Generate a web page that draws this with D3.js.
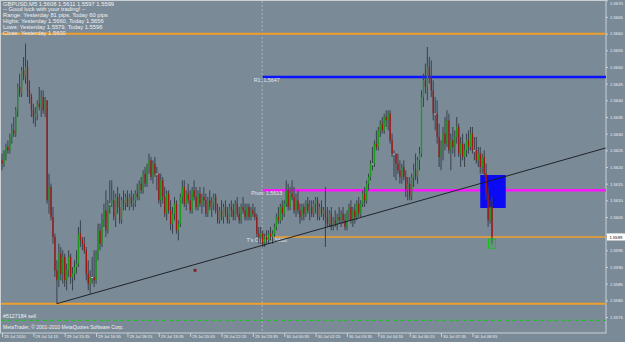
<!DOCTYPE html>
<html>
<head>
<meta charset="UTF-8">
<title>GBPUSD M5</title>
<style>
  body{ margin:0; background:#7b8a97; }
  svg{ display:block; font-family:"Liberation Sans", Arial, sans-serif; }
</style>
</head>
<body>
<svg></svg>
<script src="https://d3js.org/d3.v7.min.js"></script>
<script>

let width = 625, height = 342;

// GBPUSD M5 bars, one row per bar: open, high, low, close
let candles = [
[1.5622,1.5624,1.5619,1.5621],[1.5621,1.5625,1.5620,1.5624],[1.5624,1.5627,1.5622,1.5626],[1.5626,1.5628,1.5624,1.5625],
[1.5625,1.5630,1.5624,1.5629],[1.5629,1.5633,1.5627,1.5631],[1.5631,1.5635,1.5629,1.5630],[1.5630,1.5638,1.5629,1.5637],
[1.5637,1.5645,1.5635,1.5644],[1.5644,1.5648,1.5641,1.5642],[1.5642,1.5650,1.5641,1.5649],[1.5649,1.5653,1.5646,1.5647],
[1.5647,1.5657,1.5645,1.5650],[1.5650,1.5652,1.5641,1.5643],[1.5643,1.5646,1.5639,1.5641],[1.5641,1.5642,1.5635,1.5637],
[1.5637,1.5639,1.5633,1.5635],[1.5635,1.5638,1.5632,1.5636],[1.5636,1.5640,1.5634,1.5639],[1.5639,1.5644,1.5637,1.5638],
[1.5638,1.5643,1.5635,1.5641],[1.5641,1.5643,1.5636,1.5637],[1.5637,1.5641,1.5635,1.5640],[1.5640,1.5640,1.5609,1.5610],
[1.5610,1.5618,1.5606,1.5614],[1.5614,1.5615,1.5604,1.5605],[1.5605,1.5608,1.5597,1.5599],[1.5599,1.5600,1.5587,1.5589],
[1.5589,1.5592,1.5579,1.5586],[1.5586,1.5597,1.5584,1.5594],[1.5594,1.5596,1.5586,1.5588],[1.5588,1.5595,1.5585,1.5593],
[1.5593,1.5594,1.5584,1.5586],[1.5586,1.5591,1.5583,1.5589],[1.5589,1.5595,1.5587,1.5593],[1.5593,1.5594,1.5585,1.5587],
[1.5587,1.5590,1.5583,1.5588],[1.5588,1.5592,1.5586,1.5590],[1.5590,1.5595,1.5588,1.5591],[1.5591,1.5602,1.5590,1.5600],
[1.5600,1.5604,1.5596,1.5598],[1.5598,1.5599,1.5595,1.5597],[1.5597,1.5599,1.5594,1.5595],[1.5595,1.5596,1.5586,1.5588],
[1.5588,1.5592,1.5583,1.5585],[1.5585,1.5589,1.5582,1.5587],[1.5587,1.5593,1.5585,1.5587],[1.5587,1.5595,1.5584,1.5586],
[1.5586,1.5595,1.5585,1.5594],[1.5594,1.5603,1.5592,1.5601],[1.5601,1.5603,1.5595,1.5597],[1.5597,1.5606,1.5596,1.5604],
[1.5604,1.5609,1.5602,1.5607],[1.5607,1.5613,1.5599,1.5601],[1.5601,1.5610,1.5600,1.5609],[1.5609,1.5616,1.5606,1.5609],
[1.5609,1.5616,1.5608,1.5610],[1.5610,1.5613,1.5604,1.5605],[1.5605,1.5612,1.5602,1.5611],[1.5611,1.5614,1.5606,1.5608],
[1.5608,1.5612,1.5603,1.5604],[1.5604,1.5611,1.5603,1.5610],[1.5610,1.5613,1.5607,1.5609],[1.5609,1.5612,1.5607,1.5611],
[1.5611,1.5613,1.5608,1.5608],[1.5608,1.5612,1.5607,1.5611],[1.5611,1.5613,1.5608,1.5609],[1.5609,1.5612,1.5607,1.5610],
[1.5610,1.5613,1.5608,1.5612],[1.5612,1.5615,1.5610,1.5611],[1.5611,1.5616,1.5610,1.5615],[1.5615,1.5617,1.5612,1.5613],
[1.5613,1.5619,1.5612,1.5618],[1.5618,1.5620,1.5614,1.5615],[1.5615,1.5621,1.5614,1.5620],[1.5620,1.5624,1.5618,1.5622],
[1.5622,1.5623,1.5616,1.5617],[1.5617,1.5622,1.5615,1.5621],[1.5621,1.5623,1.5617,1.5618],[1.5618,1.5620,1.5613,1.5618],
[1.5618,1.5618,1.5609,1.5610],[1.5610,1.5618,1.5608,1.5616],[1.5616,1.5617,1.5609,1.5611],[1.5611,1.5614,1.5605,1.5606],
[1.5606,1.5613,1.5604,1.5612],[1.5612,1.5613,1.5606,1.5607],[1.5607,1.5610,1.5601,1.5603],[1.5603,1.5608,1.5600,1.5606],
[1.5606,1.5611,1.5604,1.5609],[1.5609,1.5610,1.5600,1.5601],[1.5601,1.5604,1.5598,1.5603],[1.5603,1.5612,1.5602,1.5611],
[1.5611,1.5616,1.5609,1.5614],[1.5614,1.5616,1.5608,1.5609],[1.5609,1.5613,1.5607,1.5612],[1.5612,1.5615,1.5609,1.5610],
[1.5610,1.5613,1.5606,1.5607],[1.5607,1.5614,1.5606,1.5613],[1.5613,1.5616,1.5610,1.5611],[1.5611,1.5614,1.5607,1.5608],
[1.5608,1.5613,1.5607,1.5612],[1.5612,1.5614,1.5608,1.5609],[1.5609,1.5612,1.5606,1.5611],[1.5611,1.5614,1.5608,1.5610],
[1.5610,1.5612,1.5605,1.5606],[1.5606,1.5611,1.5605,1.5610],[1.5610,1.5613,1.5607,1.5608],[1.5608,1.5611,1.5605,1.5609],
[1.5609,1.5612,1.5607,1.5611],[1.5611,1.5612,1.5606,1.5607],[1.5607,1.5609,1.5603,1.5604],[1.5604,1.5608,1.5603,1.5607],
[1.5607,1.5610,1.5604,1.5605],[1.5605,1.5609,1.5603,1.5608],[1.5608,1.5610,1.5605,1.5606],[1.5606,1.5608,1.5603,1.5604],
[1.5604,1.5609,1.5603,1.5608],[1.5608,1.5610,1.5605,1.5607],[1.5607,1.5609,1.5604,1.5605],[1.5605,1.5610,1.5604,1.5609],
[1.5609,1.5611,1.5605,1.5606],[1.5606,1.5608,1.5603,1.5604],[1.5604,1.5609,1.5603,1.5608],[1.5608,1.5611,1.5606,1.5607],
[1.5607,1.5609,1.5604,1.5605],[1.5605,1.5609,1.5604,1.5608],[1.5608,1.5609,1.5604,1.5605],[1.5605,1.5608,1.5604,1.5607],
[1.5607,1.5609,1.5605,1.5606],[1.5606,1.5608,1.5604,1.5605],[1.5605,1.5606,1.5599,1.5600],[1.5600,1.5602,1.5597,1.5599],
[1.5599,1.5602,1.5597,1.5600],[1.5600,1.5601,1.5596,1.5597],[1.5597,1.5600,1.5596,1.5599],[1.5599,1.5601,1.5597,1.5598],
[1.5598,1.5601,1.5597,1.5600],[1.5600,1.5602,1.5598,1.5599],[1.5599,1.5601,1.5597,1.5600],[1.5600,1.5603,1.5599,1.5602],
[1.5602,1.5606,1.5601,1.5605],[1.5605,1.5608,1.5603,1.5604],[1.5604,1.5609,1.5603,1.5608],[1.5608,1.5610,1.5604,1.5606],
[1.5606,1.5610,1.5605,1.5609],[1.5609,1.5616,1.5608,1.5613],[1.5613,1.5615,1.5607,1.5608],[1.5608,1.5614,1.5607,1.5612],
[1.5612,1.5616,1.5610,1.5611],[1.5611,1.5614,1.5606,1.5607],[1.5607,1.5612,1.5605,1.5610],[1.5610,1.5613,1.5606,1.5607],
[1.5607,1.5609,1.5603,1.5605],[1.5605,1.5609,1.5604,1.5608],[1.5608,1.5609,1.5604,1.5606],[1.5606,1.5610,1.5605,1.5609],
[1.5609,1.5611,1.5606,1.5607],[1.5607,1.5610,1.5604,1.5608],[1.5608,1.5610,1.5605,1.5606],[1.5606,1.5610,1.5605,1.5609],
[1.5609,1.5611,1.5606,1.5610],[1.5610,1.5611,1.5604,1.5605],[1.5605,1.5609,1.5604,1.5608],[1.5608,1.5610,1.5605,1.5606],
[1.5606,1.5608,1.5604,1.5607],[1.5607,1.5614,1.5596,1.5605],[1.5605,1.5608,1.5602,1.5603],[1.5603,1.5607,1.5602,1.5606],
[1.5606,1.5608,1.5601,1.5602],[1.5602,1.5605,1.5601,1.5604],[1.5604,1.5607,1.5602,1.5603],[1.5603,1.5606,1.5601,1.5605],
[1.5605,1.5608,1.5603,1.5604],[1.5604,1.5607,1.5602,1.5606],[1.5606,1.5608,1.5603,1.5604],[1.5604,1.5606,1.5601,1.5602],
[1.5602,1.5607,1.5601,1.5606],[1.5606,1.5609,1.5604,1.5608],[1.5608,1.5610,1.5603,1.5604],[1.5604,1.5608,1.5602,1.5607],
[1.5607,1.5609,1.5603,1.5605],[1.5605,1.5610,1.5604,1.5609],[1.5609,1.5611,1.5605,1.5606],[1.5606,1.5610,1.5605,1.5609],
[1.5609,1.5613,1.5608,1.5612],[1.5612,1.5614,1.5608,1.5610],[1.5610,1.5616,1.5609,1.5615],[1.5615,1.5618,1.5613,1.5617],
[1.5617,1.5622,1.5616,1.5621],[1.5621,1.5626,1.5619,1.5621],[1.5621,1.5628,1.5620,1.5627],[1.5627,1.5631,1.5625,1.5626],
[1.5626,1.5632,1.5625,1.5631],[1.5631,1.5634,1.5629,1.5633],[1.5633,1.5635,1.5630,1.5631],[1.5631,1.5636,1.5630,1.5635],
[1.5635,1.5637,1.5632,1.5634],[1.5634,1.5637,1.5631,1.5636],[1.5636,1.5637,1.5627,1.5628],[1.5628,1.5630,1.5623,1.5624],
[1.5624,1.5625,1.5617,1.5624],[1.5624,1.5624,1.5616,1.5621],[1.5621,1.5624,1.5618,1.5619],[1.5619,1.5622,1.5615,1.5617],
[1.5617,1.5621,1.5615,1.5620],[1.5620,1.5622,1.5616,1.5617],[1.5617,1.5619,1.5611,1.5613],[1.5613,1.5617,1.5610,1.5615],
[1.5615,1.5617,1.5610,1.5611],[1.5611,1.5618,1.5610,1.5617],[1.5617,1.5621,1.5614,1.5619],[1.5619,1.5624,1.5616,1.5617],
[1.5617,1.5623,1.5615,1.5622],[1.5622,1.5626,1.5619,1.5624],[1.5624,1.5643,1.5623,1.5641],[1.5641,1.5648,1.5638,1.5646],
[1.5646,1.5651,1.5642,1.5644],[1.5644,1.5656,1.5640,1.5650],[1.5650,1.5653,1.5645,1.5647],[1.5647,1.5652,1.5641,1.5643],
[1.5643,1.5646,1.5634,1.5636],[1.5636,1.5641,1.5631,1.5636],[1.5636,1.5640,1.5627,1.5629],[1.5629,1.5633,1.5620,1.5623],
[1.5623,1.5628,1.5619,1.5626],[1.5626,1.5632,1.5622,1.5630],[1.5630,1.5635,1.5625,1.5627],[1.5627,1.5637,1.5626,1.5634],
[1.5634,1.5636,1.5624,1.5625],[1.5625,1.5630,1.5619,1.5628],[1.5628,1.5632,1.5624,1.5626],[1.5626,1.5631,1.5623,1.5629],
[1.5629,1.5635,1.5627,1.5632],[1.5632,1.5633,1.5623,1.5624],[1.5624,1.5629,1.5620,1.5627],[1.5627,1.5630,1.5622,1.5623],
[1.5623,1.5627,1.5620,1.5625],[1.5625,1.5630,1.5623,1.5628],[1.5628,1.5631,1.5624,1.5626],[1.5626,1.5632,1.5625,1.5630],
[1.5630,1.5632,1.5624,1.5625],[1.5625,1.5629,1.5622,1.5625],[1.5625,1.5629,1.5621,1.5622],[1.5622,1.5626,1.5620,1.5624],
[1.5624,1.5626,1.5618,1.5620],[1.5620,1.5624,1.5618,1.5623],[1.5623,1.5625,1.5617,1.5618],[1.5618,1.5621,1.5610,1.5612],
[1.5612,1.5614,1.5602,1.5604],[1.5604,1.5610,1.5603,1.5608],[1.5608,1.5611,1.5597,1.5599]
];

let timeTickBars = [0, 16, 32, 48, 64, 80, 96, 112, 128, 144, 160, 176, 192, 208, 224, 240];
let timeLabels = ["29 Jul 2010", "29 Jul 14:15", "29 Jul 15:35", "29 Jul 16:55", "29 Jul 18:15", "29 Jul 19:35",
    "29 Jul 20:55", "29 Jul 22:15", "29 Jul 23:35", "30 Jul 00:55", "30 Jul 02:15", "30 Jul 03:35",
    "30 Jul 04:55", "30 Jul 06:15", "30 Jul 07:35", "30 Jul 08:55"];
let priceTicks = [1.5575, 1.5580, 1.5585, 1.5590, 1.5595, 1.5600, 1.5605, 1.5610, 1.5615, 1.5620,
    1.5625, 1.5630, 1.5635, 1.5640, 1.5645, 1.5650, 1.5655, 1.5660, 1.5665, 1.5670];

let infoLines = [
    "GBPUSD,M5  1.5608 1.5611 1.5597 1.5599",
    "-- Good luck with your trading! --",
    "Range: Yesterday 81 pips, Today 60 pips",
    "Highs: Yesterday 1.5660, Today 1.5656",
    "Lows: Yesterday 1.5579, Today 1.5596",
    "Close: Yesterday 1.5600"
];

let yesterdayHigh = 1.5660, yesterdayLow = 1.5579;
let pivot = 1.5613, r1 = 1.5647, todayOpen = 1.5599, lastPrice = 1.5599;
let stopLevel = 1.5574;
let daySplitBar = 133;
let trendPoints = [[28, 1.5579], [308, 1.56257]];
let zoneBars = [244, 257], zonePrices = [1.56077, 1.56176];
let arrowMark = [98.5, 1.5589];
let orderMark = [250, 1.5597];

let svg = d3.select("svg")
    .attr("width", width)
    .attr("height", height);

let x = d3.scaleLinear().domain([0, 308]).range([2, 605.7]);
let y = d3.scaleLinear().domain([1.5575, 1.5670]).range([317, 0.3]);

let plotR = 606, plotB = 333;
let textCol = "#eef1f4";

// frame
svg.append("rect")
    .attr("x", 0.5).attr("y", 0.5)
    .attr("width", plotR - 0.5).attr("height", plotB - 0.5)
    .attr("fill", "none")
    .attr("stroke", "#c9d0d6");

// day separator
svg.append("line")
    .attr("x1", x(daySplitBar) - 0.5).attr("x2", x(daySplitBar) - 0.5)
    .attr("y1", 1).attr("y2", plotB)
    .attr("stroke", "#a9b3bd")
    .attr("stroke-dasharray", "2,2");

// full width levels
[[yesterdayHigh, "#f0a02a"], [yesterdayLow, "#f0a02a"]].forEach(d => {
    svg.append("line")
        .attr("x1", 1).attr("x2", plotR)
        .attr("y1", y(d[0])).attr("y2", y(d[0]))
        .attr("stroke", d[1]).attr("stroke-width", 2);
});

svg.append("line")
    .attr("x1", 1).attr("x2", plotR)
    .attr("y1", y(stopLevel)).attr("y2", y(stopLevel))
    .attr("stroke", "#14c814").attr("stroke-dasharray", "4,3");

// today's levels
[[r1, "#0a14ff", "R1: 1.5647", 2.5], [pivot, "#ff14ff", "Pivot: 1.5613", 2.5], [todayOpen, "#f0a02a", "T's Open: 1.5600", 1.5]].forEach(d => {
    svg.append("line")
        .attr("x1", x(daySplitBar)).attr("x2", plotR)
        .attr("y1", y(d[0])).attr("y2", y(d[0]))
        .attr("stroke", d[1]).attr("stroke-width", d[3]);
    svg.append("text")
        .attr("x", x(daySplitBar) + 4)
        .attr("y", y(d[0]) + 5)
        .attr("text-anchor", "middle")
        .attr("font-size", "5.3px")
        .attr("fill", "#e4e8ec")
        .text(d[2]);
});

// blue zone
svg.append("rect")
    .attr("x", x(zoneBars[0])).attr("y", y(zonePrices[1]))
    .attr("width", x(zoneBars[1]) - x(zoneBars[0]))
    .attr("height", y(zonePrices[0]) - y(zonePrices[1]))
    .attr("fill", "#0a0af5");

// candles
let bars = svg.append("g").selectAll("g")
    .data(candles)
    .join("g");

bars.append("line")
    .attr("x1", (d, i) => x(i)).attr("x2", (d, i) => x(i))
    .attr("y1", d => y(d[1])).attr("y2", d => y(d[2]))
    .attr("stroke", "#38424c")
    .attr("stroke-width", 1);

bars.append("rect")
    .attr("x", (d, i) => x(i) - 0.6)
    .attr("width", 1.3)
    .attr("y", d => y(Math.max(d[0], d[3])))
    .attr("height", d => Math.max(1, Math.abs(y(d[0]) - y(d[3]))))
    .attr("fill", d => d[3] > d[0] ? "#1c9a1c" : d[3] < d[0] ? "#a81414" : "#e8ecef");

// trend line
svg.append("line")
    .attr("x1", x(trendPoints[0][0])).attr("y1", y(trendPoints[0][1]))
    .attr("x2", x(trendPoints[1][0])).attr("y2", y(trendPoints[1][1]))
    .attr("stroke", "#15191d").attr("stroke-width", 0.9);

// markers
svg.append("rect")
    .attr("x", x(arrowMark[0]) - 1.5).attr("y", y(arrowMark[1]) - 1.5)
    .attr("width", 3).attr("height", 3)
    .attr("fill", "#7a2a2a");

svg.append("rect")
    .attr("x", x(orderMark[0]) - 3.5).attr("y", y(orderMark[1]) - 4.5)
    .attr("width", 7).attr("height", 9)
    .attr("fill", "none").attr("stroke", "#19c019").attr("stroke-width", 1);
svg.append("rect")
    .attr("x", x(orderMark[0]) - 1).attr("y", y(orderMark[1]) - 2)
    .attr("width", 2).attr("height", 4)
    .attr("fill", "none").attr("stroke", "#19c019").attr("stroke-width", 0.6);

// price axis
let yAxis = svg.append("g")
    .attr("transform", "translate(" + plotR + ",0)")
    .call(d3.axisRight(y).tickValues(priceTicks).tickFormat(d3.format(".4f")).tickSize(2).tickPadding(2));
yAxis.select(".domain").remove();
yAxis.selectAll("line").attr("stroke", "#c9d0d6");
yAxis.selectAll("text")
    .attr("font-size", "4.2px")
    .attr("font-family", "Liberation Sans, Arial, sans-serif")
    .attr("fill", textCol);
yAxis.selectAll(".tick").filter(d => d === 1.5670).select("text").attr("dy", "0.9em");

let lastG = svg.append("g").attr("transform", "translate(" + (plotR + 1) + "," + y(lastPrice) + ")");
lastG.append("rect").attr("x", 0).attr("y", -3.5).attr("width", 18).attr("height", 7).attr("fill", "#ffffff");
lastG.append("text").attr("x", 2.5).attr("y", 1.6).attr("font-size", "4.2px").attr("fill", "#000").text(d3.format(".4f")(lastPrice));

// time axis
let xAxis = svg.append("g")
    .attr("transform", "translate(0," + plotB + ")")
    .call(d3.axisBottom(x).tickValues(timeTickBars).tickFormat((d, i) => timeLabels[i]).tickSize(4).tickPadding(1));
xAxis.select(".domain").remove();
xAxis.selectAll("line").attr("stroke", "#c9d0d6");
xAxis.selectAll("text")
    .attr("text-anchor", "start")
    .attr("dx", "1.5")
    .attr("y", 2.5)
    .attr("font-size", "4.2px")
    .attr("font-family", "Liberation Sans, Arial, sans-serif")
    .attr("fill", textCol);

// info text
svg.append("g").selectAll("text")
    .data(infoLines)
    .join("text")
    .attr("x", 3)
    .attr("y", (d, i) => 5.5 + i * 5.8)
    .attr("font-size", "5.8px")
    .attr("fill", textCol)
    .text(d => d);

svg.append("text").attr("x", 3).attr("y", 318).attr("font-size", "5.3px").attr("fill", textCol).text("#5127184 sell");
svg.append("text").attr("x", 3).attr("y", 329).attr("font-size", "5px").attr("fill", textCol).text("MetaTrader, © 2001-2010 MetaQuotes Software Corp.");

</script>
</body>
</html>
